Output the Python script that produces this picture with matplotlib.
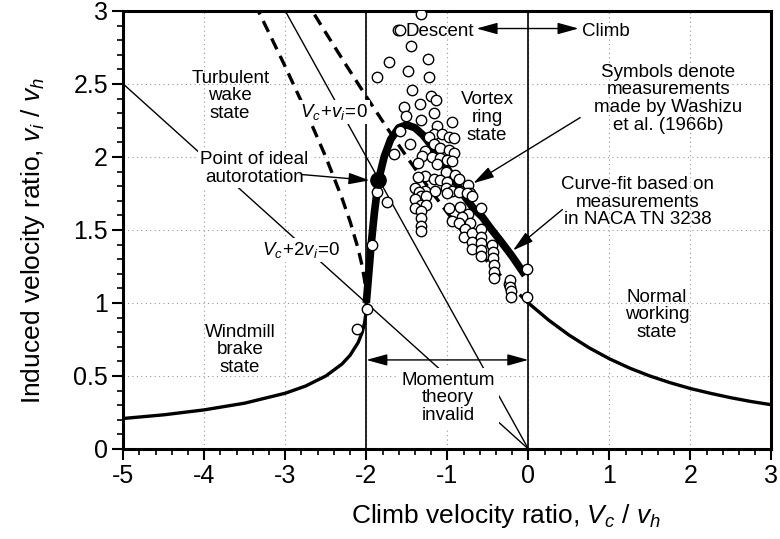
import matplotlib
matplotlib.use("Agg")
import matplotlib.pyplot as plt
from matplotlib.ticker import MultipleLocator

plt.rcParams['font.family'] = ['Liberation Sans', 'DejaVu Sans']
plt.rcParams['mathtext.fontset'] = 'custom'
plt.rcParams['mathtext.rm'] = 'Liberation Sans'
plt.rcParams['mathtext.it'] = 'Liberation Sans:italic'

# momentum theory, normal working state (climb)
climb_vc = [0.0, 0.25, 0.5, 0.75, 1.0, 1.25, 1.5, 1.75, 2.0, 2.25, 2.5, 2.75, 3.0]
climb_vi = [1.0, 0.883, 0.781, 0.693, 0.618, 0.554, 0.5, 0.454, 0.414, 0.381, 0.351, 0.325, 0.303]

# momentum theory, windmill brake state
brake_vc = [-5.0, -4.5, -4.0, -3.5, -3.0, -2.75, -2.5, -2.3, -2.2, -2.1, -2.05, -2.02, -2.005, -2.0]
brake_vi = [0.209, 0.234, 0.268, 0.314, 0.382, 0.431, 0.5, 0.582, 0.642, 0.730, 0.800, 0.868, 0.932, 1.0]

# invalid branches (dashed)
brake_up_vc = [-2.0, -2.005, -2.02, -2.05, -2.1, -2.2, -2.3, -2.5, -2.75, -3.0, -3.2, -3.333]
brake_up_vi = [1.0, 1.073, 1.152, 1.25, 1.370, 1.558, 1.718, 2.0, 2.319, 2.618, 2.849, 3.0]
climb_ext_vc = [0.0, -0.25, -0.5, -0.75, -1.0, -1.25, -1.5, -1.75, -2.0, -2.25, -2.5, -2.667]
climb_ext_vi = [1.0, 1.133, 1.281, 1.443, 1.618, 1.804, 2.0, 2.204, 2.414, 2.630, 2.851, 3.0]

# curve-fit through the vortex ring region
fit_vc = [-2.0, -1.97, -1.94, -1.9, -1.85, -1.78, -1.7, -1.6, -1.5, -1.4, -1.3, -1.2,
          -1.1, -1.0, -0.9, -0.8, -0.68, -0.57, -0.45, -0.35, -0.2, -0.04]
fit_vi = [1.0, 1.2, 1.4, 1.62, 1.84, 2.0, 2.12, 2.2, 2.22, 2.2, 2.15, 2.08,
          2.0, 1.92, 1.83, 1.74, 1.65, 1.59, 1.5, 1.43, 1.32, 1.19]

# Washizu et al. (1966b) measurements
meas_vc = [-1.32, -1.61, -1.58, -1.45, -1.72, -1.24, -1.49, -1.87, -1.23, -1.44, -1.20, -1.14,
           -1.54, -1.34, -1.51, -1.32, -1.16, -1.13, -0.94, -1.59, -1.17, -1.07, -0.98, -0.92,
           -1.23, -1.46, -1.27, -1.17, -1.09, -0.98, -0.92, -1.66, -1.31, -1.19, -1.09, -1.0,
           -0.94, -1.13, -1.36, -1.02, -0.90, -1.27, -1.17, -1.09, -1.0, -0.86, -0.74, -1.36,
           -1.40, -1.27, -1.15, -1.02, -0.94, -0.84, -0.72, -1.35, -1.0, -0.86, -0.76, -1.33,
           -1.40, -1.26, -0.70, -1.33, -1.40, -1.26, -0.59, -0.98, -0.84, -0.74, -1.33, -1.33,
           -1.33, -1.33, -0.94, -0.82, -0.86, -0.72, -0.78, -0.80, -0.70, -0.70, -0.70, -0.59,
           -0.59, -0.58, -0.58, -0.58, -0.45, -0.44, -0.44, -0.43, -0.43, -0.42, -0.24, -0.23,
           -0.23, -0.22, -0.22, -0.02, -0.02, -1.87, -1.74, -1.93, -1.99, -2.12]
meas_vi = [2.98, 2.87, 2.87, 2.76, 2.65, 2.67, 2.59, 2.55, 2.55, 2.46, 2.42, 2.39,
           2.34, 2.36, 2.28, 2.25, 2.30, 2.21, 2.24, 2.18, 2.16, 2.16, 2.14, 2.13,
           2.14, 2.09, 2.04, 2.09, 2.06, 2.05, 2.03, 2.02, 2.01, 2.0, 1.99, 1.98,
           1.97, 1.95, 1.96, 1.90, 1.88, 1.87, 1.85, 1.84, 1.83, 1.85, 1.81, 1.86,
           1.79, 1.77, 1.77, 1.79, 1.77, 1.77, 1.75, 1.76, 1.75, 1.76, 1.75, 1.73,
           1.71, 1.73, 1.73, 1.67, 1.65, 1.67, 1.65, 1.65, 1.66, 1.61, 1.63, 1.58,
           1.53, 1.49, 1.56, 1.59, 1.55, 1.55, 1.51, 1.45, 1.48, 1.42, 1.37, 1.51,
           1.45, 1.41, 1.36, 1.32, 1.40, 1.35, 1.31, 1.26, 1.21, 1.17, 1.13, 1.16,
           1.11, 1.08, 1.04, 1.23, 1.04, 1.76, 1.69, 1.40, 0.96, 0.82]

# ideal autorotation point
auto_vc = [-1.85]
auto_vi = [1.84]

fig = plt.figure(figsize=(7.8, 5.39), dpi=100)
ax = fig.add_axes([0.158, 0.167, 0.831, 0.8126])

ax.set_xlim(-5, 3)
ax.set_ylim(0, 3)
ax.xaxis.set_major_locator(MultipleLocator(1))
ax.xaxis.set_minor_locator(MultipleLocator(0.2))
ax.yaxis.set_major_locator(MultipleLocator(0.5))
ax.yaxis.set_minor_locator(MultipleLocator(0.1))
ax.tick_params(which='major', direction='out', length=8, width=1.5, labelsize=18, pad=3)
ax.tick_params(which='minor', direction='out', length=4, width=1.2)
ax.xaxis.set_major_formatter(plt.FuncFormatter(lambda v, p: '%g' % v))
ax.yaxis.set_major_formatter(plt.FuncFormatter(lambda v, p: '%g' % v))
for s in ax.spines.values():
    s.set_linewidth(2.2)
ax.grid(True, which='major', color='#999999', linestyle=(0, (1, 3)), linewidth=0.8, zorder=0)

ax.set_xlabel('Climb velocity ratio, $V_c$ / $v_h$', fontsize=19)
ax.set_ylabel('Induced velocity ratio, $v_i$ / $v_h$', fontsize=19)
ax.xaxis.set_label_coords(0.59, -0.122)
ax.yaxis.set_label_coords(-0.118, 0.475)

# boundaries of the region where momentum theory fails
ax.axvline(-2, color='black', lw=1.2, zorder=2)
ax.axvline(0, color='black', lw=1.2, zorder=2)

# V_c + v_i = 0 and V_c + 2 v_i = 0
ax.plot([-3, 0], [3, 0], color='black', lw=1.0, zorder=2)
ax.plot([-5, 0], [2.5, 0], color='black', lw=1.0, zorder=2)

ax.plot(brake_up_vc, brake_up_vi, color='black', lw=2.4, ls=(0, (3.6, 2.2)), zorder=2)
ax.plot(climb_ext_vc, climb_ext_vi, color='black', lw=2.4, ls=(0, (3.6, 2.2)), zorder=2)
ax.plot(climb_vc, climb_vi, color='black', lw=2.4, zorder=3)
ax.plot(brake_vc, brake_vi, color='black', lw=2.4, zorder=3)
ax.plot(fit_vc, fit_vi, color='black', lw=5.5, solid_capstyle='butt', zorder=3)

ax.plot(meas_vc, meas_vi, 'o', ms=7.5, mfc='white', mec='black', mew=1.0, zorder=4)
ax.plot(auto_vc, auto_vi, 'o', ms=11, color='black', zorder=5)

txt = dict(fontsize=13.5, ha='center', va='center', linespacing=1.05, zorder=6)
wbox = dict(facecolor='white', edgecolor='none', pad=1.5)

ax.text(-3.68, 2.42, 'Turbulent\nwake\nstate', **txt)
ax.text(-3.38, 1.92, 'Point of ideal\nautorotation', bbox=wbox, **txt)
ax.text(-2.40, 2.31, '$V_c\\!+\\!v_i\\!=\\!0$', bbox=wbox, **txt)
ax.text(-2.80, 1.36, '$V_c\\!+\\!2v_i\\!=\\!0$', bbox=wbox, **txt)
ax.text(-0.51, 2.27, 'Vortex\nring\nstate', **txt)
ax.text(1.73, 2.40, 'Symbols denote\nmeasurements\nmade by Washizu\net al. (1966b)', **txt)
ax.text(1.35, 1.69, 'Curve-fit based on\nmeasurements\nin NACA TN 3238', **txt)
ax.text(-3.56, 0.68, 'Windmill\nbrake\nstate', **txt)
ax.text(1.59, 0.92, 'Normal\nworking\nstate', **txt)
ax.text(-0.99, 0.35, 'Momentum\ntheory\ninvalid', bbox=dict(facecolor='white', edgecolor='none', pad=3), **txt)
ax.text(-1.09, 2.86, 'Descent', **txt)
ax.text(0.96, 2.86, 'Climb', **txt)

head = dict(color='black', lw=1.0, shrinkA=0, shrinkB=0, mutation_scale=16)
ax.annotate('', xy=(-1.96, 1.84), xytext=(-2.8, 1.88),
            arrowprops=dict(arrowstyle='-|>,head_length=0.8,head_width=0.22', **head), zorder=6)
ax.annotate('', xy=(-0.68, 1.82), xytext=(0.64, 2.27),
            arrowprops=dict(arrowstyle='-|>,head_length=0.8,head_width=0.22', **head), zorder=6)
ax.annotate('', xy=(-0.19, 1.36), xytext=(0.42, 1.64),
            arrowprops=dict(arrowstyle='-|>,head_length=0.8,head_width=0.22', **head), zorder=6)
ax.annotate('', xy=(-0.64, 2.88), xytext=(0.62, 2.88),
            arrowprops=dict(arrowstyle='<|-|>,head_length=0.8,head_width=0.22', **head), zorder=6)
ax.annotate('', xy=(-2, 0.61), xytext=(0, 0.61),
            arrowprops=dict(arrowstyle='<|-|>,head_length=0.8,head_width=0.22', **head), zorder=6)

fig.savefig('out.png', dpi=100)
